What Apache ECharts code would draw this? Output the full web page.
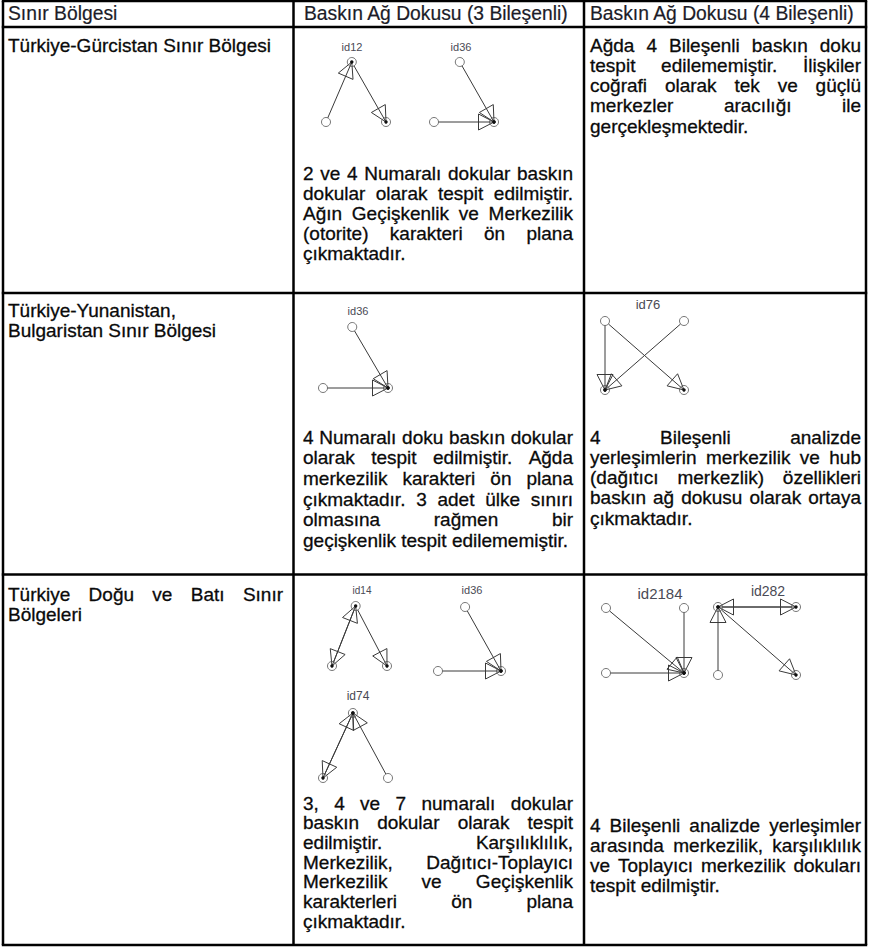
<!DOCTYPE html>
<html><head><meta charset="utf-8">
<script src="https://cdn.jsdelivr.net/npm/echarts@6/dist/echarts.min.js"></script>
<style>html,body{margin:0;padding:0;background:#fff}#c{width:869px;height:948px}</style>
</head><body><div id="c"></div>
<script>
// ---------- DATA ----------
const headers = ['Sınır Bölgesi', 'Baskın Ağ Dokusu (3 Bileşenli)', 'Baskın Ağ Dokusu (4 Bileşenli)'];
// each cell: list of paragraphs, each paragraph: list of lines (justified except last line)
const regionCells = [
  [['Türkiye-Gürcistan Sınır Bölgesi']],
  [['Türkiye-Yunanistan,'], ['Bulgaristan Sınır Bölgesi']],
  [['Türkiye Doğu ve Batı Sınır', 'Bölgeleri']]
];
const threeCompCells = [
  [['2 ve 4 Numaralı dokular baskın', 'dokular olarak tespit edilmiştir.', 'Ağın Geçişkenlik ve Merkezilik', '(otorite) karakteri ön plana', 'çıkmaktadır.']],
  [['4 Numaralı doku baskın dokular', 'olarak tespit edilmiştir. Ağda', 'merkezilik karakteri ön plana', 'çıkmaktadır. 3 adet ülke sınırı', 'olmasına rağmen bir', 'geçişkenlik tespit edilememiştir.']],
  [['3, 4 ve 7 numaralı dokular', 'baskın dokular olarak tespit', 'edilmiştir. Karşılıklılık,', 'Merkezilik, Dağıtıcı-Toplayıcı', 'Merkezilik ve Geçişkenlik', 'karakterleri ön plana', 'çıkmaktadır.']]
];
const fourCompCells = [
  [['Ağda 4 Bileşenli baskın doku', 'tespit edilememiştir. İlişkiler', 'coğrafi olarak tek ve güçlü', 'merkezler aracılığı ile', 'gerçekleşmektedir.']],
  [['4 Bileşenli analizde', 'yerleşimlerin merkezilik ve hub', '(dağıtıcı merkezlik) özellikleri', 'baskın ağ dokusu olarak ortaya', 'çıkmaktadır.']],
  [['4 Bileşenli analizde yerleşimler', 'arasında merkezilik, karşılıklılık', 've Toplayıcı merkezilik dokuları', 'tespit edilmiştir.']]
];
// motif graphs: names, node coordinates (unit data space), directed edges [from, to]
const motifNames = ['id12', 'id36', 'id36', 'id76', 'id14', 'id36', 'id74', 'id2184', 'id282'];
const motifNodes = [
  [[0.43, 1], [0, 0], [1, 0]],
  [[0.43, 1], [0, 0], [1, 0]],
  [[0.45, 1], [0, 0], [1, 0]],
  [[0, 1], [1, 1], [0, 0], [1, 0]],
  [[0.43, 1], [0, 0], [1, 0]],
  [[0.43, 1], [0, 0], [1, 0]],
  [[0.46, 1], [0, 0], [1, 0]],
  [[0, 1], [1, 1], [0, 0], [1, 0]],
  [[0, 1], [1, 1], [0, 0], [1, 0]]
];
const motifEdges = [
  [[1, 0], [0, 2]],
  [[0, 2], [1, 2]],
  [[0, 2], [1, 2]],
  [[0, 2], [1, 2], [0, 3]],
  [[1, 0], [0, 1], [0, 2]],
  [[0, 2], [1, 2]],
  [[1, 0], [2, 0], [0, 1]],
  [[0, 3], [1, 3], [2, 3]],
  [[0, 1], [1, 0], [2, 0], [0, 3]]
];

// ---------- LAYOUT ----------
const W = 869, H = 948;
const colX = [3, 293.5, 584, 866];
const rowY = [1, 27, 293, 574.5, 945];
const textCols = [[8, 283], [303, 573], [590, 861]];
const headerX = [8, 304, 590];
const headerY = 13.5;
const cellTop = [[45, 310, 594], [173, 437, 803], [45, 437, 825]];
const cellLH = [[20, 20, 20], [20, 20.7, 19.7], [20.3, 20.3, 20]];
const FONT_SIZE = 19;
const HEADER_FONT_SIZE = 19.3;
const FONT_FAMILY = '"Liberation Sans", Arial, sans-serif';
// motif grid boxes [left, top, width, height] and label [cx, cy, fontSize]
const motifBoxes = [
  [326, 62, 60, 60], [434, 62, 60, 60], [323, 327, 65, 61], [605, 321, 79, 69],
  [332, 606, 55, 60], [438, 607, 63, 64], [323, 713, 65, 65], [606, 608, 78, 65], [718, 607, 78, 68]
];
const motifLabels = [
  [352, 47, 11], [461, 47, 11], [358, 311, 11], [648, 304, 13],
  [362, 590, 10], [472, 590, 11], [358, 696, 12], [660, 593, 15], [768, 591, 14]
];

// ---------- BUILD ----------
const mctx = document.createElement('canvas').getContext('2d');
mctx.font = FONT_SIZE + 'px ' + FONT_FAMILY;
function mw(s) { return mctx.measureText(s).width; }

const graphics = [];
// table lines
for (const y of rowY) graphics.push({ type: 'line', shape: { x1: colX[0] - 1.2, y1: y, x2: colX[3] + 1.2, y2: y }, style: { stroke: '#000', lineWidth: 2.5 }, z: 10 });
for (const x of colX) graphics.push({ type: 'line', shape: { x1: x, y1: rowY[0], x2: x, y2: rowY[4] }, style: { stroke: '#000', lineWidth: 2.5 }, z: 10 });

function addText(txt, x, y, color, size, weight) {
  graphics.push({ type: 'text', x: x, y: y, style: { text: txt, fontSize: size, fontFamily: FONT_FAMILY, fill: color, stroke: color, lineWidth: weight, align: 'left', verticalAlign: 'middle' }, z: 5 });
}
headers.forEach((h, i) => addText(h, headerX[i], headerY, '#1c1c28', HEADER_FONT_SIZE, 0.2));

function layoutCell(paragraphs, col, row) {
  const [x0, x1] = textCols[col];
  let y = cellTop[col][row];
  const lh = cellLH[col][row];
  paragraphs.forEach(par => {
    par.forEach((line, li) => {
      const justify = li < par.length - 1;
      const words = line.split(' ');
      if (!justify || words.length < 2) {
        addText(line, x0, y, '#0a0a0a', FONT_SIZE, 0.3);
      } else {
        const widths = words.map(mw);
        const total = widths.reduce((a, b) => a + b, 0);
        const gap = (x1 - x0 - total) / (words.length - 1);
        let x = x0;
        words.forEach((w, wi) => { addText(w, x, y, '#0a0a0a', FONT_SIZE, 0.3); x += widths[wi] + gap; });
      }
      y += lh;
    });
  });
}
regionCells.forEach((c, r) => layoutCell(c, 0, r));
threeCompCells.forEach((c, r) => layoutCell(c, 1, r));
fourCompCells.forEach((c, r) => layoutCell(c, 2, r));

// motif labels
motifNames.forEach((n, i) => {
  const [cx, cy, fs] = motifLabels[i];
  graphics.push({ type: 'text', x: cx, y: cy, style: { text: n, fontSize: fs, fontFamily: FONT_FAMILY, fill: '#4a4a55', align: 'center', verticalAlign: 'middle' }, z: 5 });
});

const grids = [], xAxes = [], yAxes = [], series = [];
const ARROW_L = 15.5, ARROW_W = 8, NODE_R = 4.5;
motifNames.forEach((n, i) => {
  const [l, t, w, h] = motifBoxes[i];
  grids.push({ left: l, top: t, width: w, height: h });
  xAxes.push({ type: 'value', gridIndex: i, min: 0, max: 1, show: false });
  yAxes.push({ type: 'value', gridIndex: i, min: 0, max: 1, show: false });
  const nodes = motifNodes[i];
  const edgeData = motifEdges[i].map(([a, b]) => [nodes[a][0], nodes[a][1], nodes[b][0], nodes[b][1]]);
  series.push({
    type: 'custom', name: n + ' edges', xAxisIndex: i, yAxisIndex: i, coordinateSystem: 'cartesian2d',
    encode: { x: [0, 2], y: [1, 3] }, data: edgeData, silent: true, z: 3,
    renderItem: function (params, api) {
      const p1 = api.coord([api.value(0), api.value(1)]);
      const p2 = api.coord([api.value(2), api.value(3)]);
      const dx = p2[0] - p1[0], dy = p2[1] - p1[1];
      const len = Math.hypot(dx, dy) || 1;
      const ux = dx / len, uy = dy / len, px = -uy, py = ux;
      const s = [p1[0] + ux * NODE_R, p1[1] + uy * NODE_R];
      const tip = [p2[0], p2[1]];
      const base = [tip[0] - ux * ARROW_L, tip[1] - uy * ARROW_L];
      return {
        type: 'group', children: [
          { type: 'line', shape: { x1: s[0], y1: s[1], x2: tip[0], y2: tip[1] }, style: { stroke: '#3a3a3a', lineWidth: 1 } },
          { type: 'polygon', shape: { points: [tip, [base[0] + px * ARROW_W, base[1] + py * ARROW_W], [base[0] - px * ARROW_W, base[1] - py * ARROW_W]] }, style: { fill: 'none', stroke: '#3a3a3a', lineWidth: 1 } },
          { type: 'circle', shape: { cx: tip[0], cy: tip[1], r: 1.7 }, style: { fill: '#111' } }
        ]
      };
    }
  });
  series.push({
    type: 'scatter', name: n + ' nodes', xAxisIndex: i, yAxisIndex: i, data: nodes, symbol: 'circle', symbolSize: NODE_R * 2,
    itemStyle: { color: 'rgba(0,0,0,0)', borderColor: '#555', borderWidth: 1 }, silent: true, z: 4, animation: false
  });
});

const chart = echarts.init(document.getElementById('c'), null, { renderer: 'svg', width: W, height: H });
chart.setOption({
  animation: false,
  backgroundColor: '#fff',
  grid: grids, xAxis: xAxes, yAxis: yAxes, series: series,
  graphic: graphics
});
</script></body></html>
